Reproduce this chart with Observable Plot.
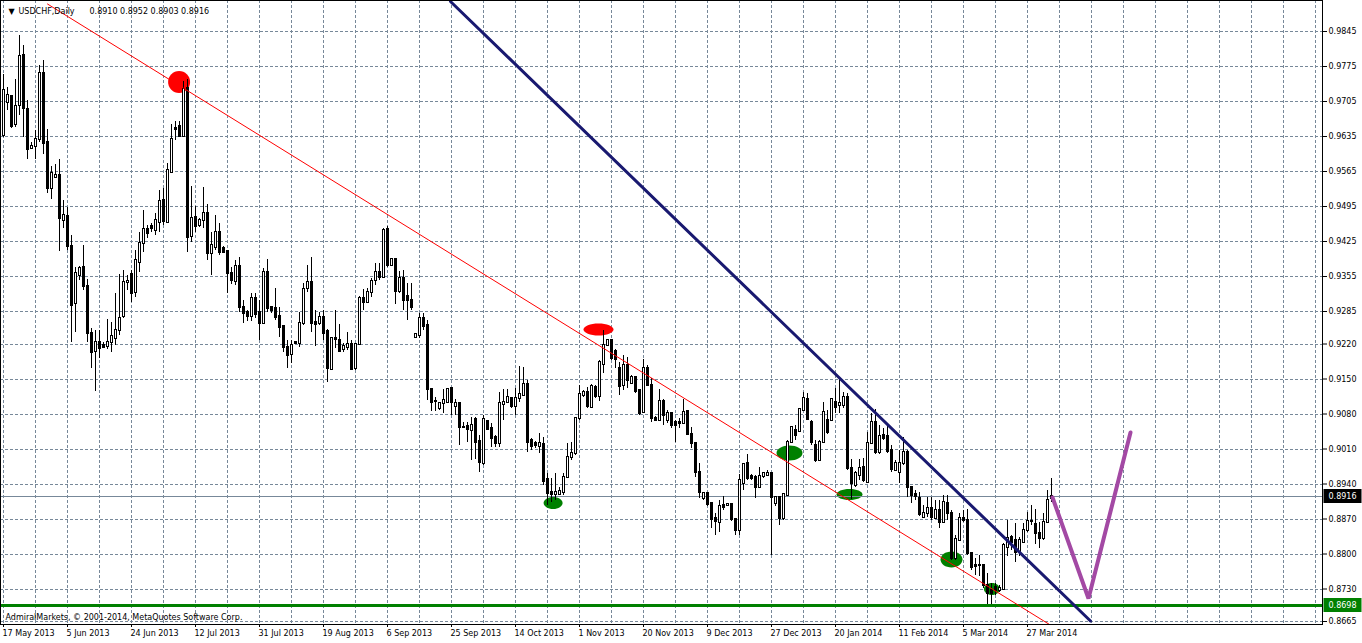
<!DOCTYPE html>
<html><head><meta charset="utf-8">
<script src="https://cdn.jsdelivr.net/npm/d3@7"></script>
<script src="https://cdn.jsdelivr.net/npm/@observablehq/plot@0.6"></script>
<style>
html,body{margin:0;padding:0;background:#fff;overflow:hidden}
#chart svg{display:block}
</style></head><body><div id="chart"></div>
<script>
// ---- data ----
const symbolTitle = "USDCHF,Daily";
const copyright = "AdmiralMarkets, © 2001-2014, MetaQuotes Software Corp.";
const dateLabels = ["17 May 2013","5 Jun 2013","24 Jun 2013","12 Jul 2013","31 Jul 2013","19 Aug 2013","6 Sep 2013","25 Sep 2013","14 Oct 2013","1 Nov 2013","20 Nov 2013","9 Dec 2013","27 Dec 2013","20 Jan 2014","11 Feb 2014","5 Mar 2014","27 Mar 2014"];
const dateLabelBars = [0,16,32,48,64,80,96,112,128,144,160,176,192,208,224,240,256];
const priceTicks = [0.9845,0.9775,0.9705,0.9635,0.9565,0.9495,0.9425,0.9355,0.9285,0.9220,0.9150,0.9080,0.9010,0.8940,0.8870,0.8800,0.8730,0.8665];

const opens = [
0.9637,0.9703,0.9715,0.9659,0.9697,0.9797,0.9689,0.9611,0.9615,0.9629,
0.9761,0.9623,0.9531,0.9553,0.9557,0.9467,0.9475,0.9415,0.9301,0.9357,
0.9373,0.9335,0.9241,0.9205,0.9223,0.9217,0.9215,0.9223,0.9231,0.9247,
0.9275,0.9343,0.9359,0.9323,0.9383,0.9421,0.9449,0.9455,0.9447,0.9463,
0.9507,0.9463,0.9563,0.9651,0.9655,0.9635,0.9731,0.9435,0.9473,0.9457,
0.9467,0.9481,0.9401,0.9413,0.9443,0.9411,0.9405,0.9361,0.9345,0.9375,
0.9293,0.9283,0.9275,0.9311,0.9283,0.9261,0.9363,0.9293,0.9291,0.9275,
0.9255,0.9213,0.9199,0.9223,0.9221,0.9261,0.9331,0.9343,0.9263,0.9261,
0.9273,0.9245,0.9169,0.9231,0.9227,0.9209,0.9213,0.9219,0.9171,0.9219,
0.9311,0.9303,0.9323,0.9347,0.9363,0.9353,0.9449,0.9377,0.9389,0.9325,
0.9351,0.9315,0.9307,0.9233,0.9237,0.9271,0.9257,0.9129,0.9105,0.9091,
0.9101,0.9103,0.9131,0.9095,0.9101,0.9053,0.9055,0.9047,0.9069,0.9025,
0.8981,0.9065,0.9051,0.9033,0.9021,0.9099,0.9103,0.9111,0.9095,0.9111,
0.9117,0.9139,0.9027,0.9021,0.9015,0.9019,0.8949,0.8923,0.8919,0.8919,
0.8923,0.8953,0.8993,0.9001,0.9071,0.9117,0.9123,0.9093,0.9133,0.9115,
0.9179,0.9217,0.9227,0.9205,0.9171,0.9137,0.9177,0.9141,0.9153,0.9127,
0.9083,0.9171,0.9137,0.9071,0.9067,0.9105,0.9067,0.9081,0.9063,0.9063,
0.9061,0.9085,0.9039,0.9021,0.8963,0.8911,0.8921,0.8901,0.8871,0.8863,
0.8897,0.8897,0.8899,0.8869,0.8847,0.8941,0.8981,0.8955,0.8953,0.8933,
0.8955,0.8957,0.8961,0.8901,0.8913,0.8871,0.8917,0.9023,0.9047,0.9045,
0.9087,0.9109,0.9063,0.9017,0.8987,0.9023,0.9067,0.9067,0.9103,0.9097,
0.9097,0.9113,0.8971,0.8937,0.8957,0.8973,0.8943,0.9021,0.9063,0.9003,
0.9037,0.9035,0.9007,0.8967,0.8963,0.8981,0.9003,0.8933,0.8919,0.8911,
0.8873,0.8881,0.8891,0.8871,0.8887,0.8863,0.8901,0.8881,0.8791,0.8827,
0.8871,0.8867,0.8801,0.8777,0.8777,0.8777,0.8737,0.8727,0.8733,0.8727,
0.8729,0.8813,0.8833,0.8827,0.8803,0.8823,0.8847,0.8865,0.8859,0.8841,
0.8831,0.8863,0.8910];
const highs = [
0.9759,0.9733,0.9717,0.9749,0.9837,0.9817,0.9707,0.9623,0.9647,0.9777,
0.9787,0.9649,0.9575,0.9579,0.9589,0.9507,0.9493,0.9437,0.9373,0.9375,
0.9417,0.9349,0.9251,0.9247,0.9247,0.9223,0.9269,0.9263,0.9321,0.9359,
0.9367,0.9357,0.9367,0.9407,0.9443,0.9487,0.9457,0.9461,0.9481,0.9527,
0.9531,0.9581,0.9659,0.9665,0.9665,0.9745,0.9749,0.9535,0.9495,0.9471,
0.9533,0.9499,0.9443,0.9477,0.9461,0.9415,0.9407,0.9373,0.9387,0.9393,
0.9307,0.9287,0.9321,0.9321,0.9307,0.9371,0.9389,0.9295,0.9331,0.9293,
0.9257,0.9227,0.9227,0.9225,0.9283,0.9341,0.9377,0.9393,0.9287,0.9283,
0.9287,0.9249,0.9233,0.9287,0.9259,0.9221,0.9243,0.9227,0.9221,0.9315,
0.9329,0.9331,0.9351,0.9381,0.9381,0.9451,0.9455,0.9391,0.9391,0.9365,
0.9367,0.9341,0.9341,0.9241,0.9281,0.9281,0.9267,0.9131,0.9113,0.9103,
0.9129,0.9131,0.9133,0.9109,0.9103,0.9063,0.9063,0.9073,0.9073,0.9037,
0.9077,0.9067,0.9061,0.9037,0.9123,0.9129,0.9129,0.9113,0.9131,0.9175,
0.9173,0.9147,0.9031,0.9025,0.9041,0.9033,0.8961,0.8951,0.8961,0.8933,
0.8961,0.9021,0.9023,0.9073,0.9137,0.9127,0.9133,0.9139,0.9137,0.9187,
0.9247,0.9229,0.9229,0.9209,0.9183,0.9197,0.9193,0.9157,0.9155,0.9129,
0.9189,0.9177,0.9151,0.9075,0.9129,0.9109,0.9087,0.9083,0.9067,0.9071,
0.9109,0.9087,0.9053,0.9021,0.8981,0.8923,0.8923,0.8903,0.8881,0.8907,
0.8915,0.8901,0.8901,0.8871,0.8959,0.8981,0.8999,0.8959,0.8957,0.8973,
0.8963,0.8967,0.8963,0.8915,0.8915,0.8921,0.9027,0.9055,0.9057,0.9091,
0.9123,0.9121,0.9067,0.9027,0.9027,0.9103,0.9087,0.9111,0.9131,0.9151,
0.9123,0.9121,0.8989,0.8965,0.8989,0.8991,0.9043,0.9081,0.9089,0.9057,
0.9051,0.9061,0.9017,0.8987,0.9007,0.9033,0.9007,0.8935,0.8927,0.8923,
0.8897,0.8913,0.8913,0.8907,0.8907,0.8917,0.8917,0.8887,0.8837,0.8881,
0.8887,0.8889,0.8803,0.8791,0.8797,0.8779,0.8761,0.8741,0.8741,0.8737,
0.8821,0.8867,0.8837,0.8861,0.8833,0.8861,0.8883,0.8897,0.8889,0.8863,
0.8881,0.8927,0.8952];
const lows = [
0.9633,0.9687,0.9651,0.9653,0.9677,0.9633,0.9589,0.9609,0.9589,0.9623,
0.9599,0.9521,0.9509,0.9551,0.9405,0.9451,0.9407,0.9223,0.9243,0.9347,
0.9327,0.9223,0.9171,0.9125,0.9191,0.9211,0.9209,0.9203,0.9217,0.9237,
0.9271,0.9327,0.9303,0.9313,0.9363,0.9403,0.9431,0.9443,0.9437,0.9443,
0.9457,0.9461,0.9561,0.9627,0.9633,0.9633,0.9403,0.9423,0.9443,0.9453,
0.9451,0.9387,0.9357,0.9407,0.9397,0.9401,0.9321,0.9339,0.9337,0.9283,
0.9261,0.9265,0.9265,0.9271,0.9227,0.9259,0.9283,0.9281,0.9267,0.9233,
0.9203,0.9171,0.9181,0.9219,0.9213,0.9257,0.9323,0.9243,0.9215,0.9257,
0.9227,0.9143,0.9167,0.9211,0.9203,0.9203,0.9207,0.9167,0.9167,0.9217,
0.9287,0.9301,0.9313,0.9337,0.9347,0.9351,0.9373,0.9375,0.9299,0.9321,
0.9287,0.9267,0.9287,0.9231,0.9231,0.9247,0.9107,0.9085,0.9085,0.9087,
0.9081,0.9101,0.9077,0.9077,0.9017,0.9051,0.9023,0.8987,0.8989,0.8963,
0.8977,0.9047,0.9013,0.9013,0.9013,0.9067,0.9101,0.9091,0.9077,0.9103,
0.9115,0.9003,0.9007,0.9011,0.9001,0.8937,0.8897,0.8903,0.8907,0.8917,
0.8917,0.8951,0.8987,0.8997,0.9067,0.9113,0.9091,0.9091,0.9111,0.9105,
0.9161,0.9215,0.9187,0.9171,0.9117,0.9127,0.9131,0.9139,0.9121,0.9077,
0.9081,0.9135,0.9063,0.9065,0.9065,0.9057,0.9061,0.9051,0.9023,0.9051,
0.9059,0.9037,0.9011,0.8953,0.8911,0.8907,0.8895,0.8851,0.8837,0.8843,
0.8887,0.8895,0.8865,0.8837,0.8837,0.8927,0.8947,0.8947,0.8911,0.8931,
0.8951,0.8955,0.8797,0.8895,0.8857,0.8867,0.8915,0.9021,0.9027,0.9043,
0.9085,0.9067,0.9017,0.8983,0.8985,0.9021,0.9039,0.9065,0.9081,0.9081,
0.9091,0.8967,0.8909,0.8933,0.8947,0.8943,0.8941,0.9019,0.8999,0.8999,
0.9027,0.9001,0.8963,0.8965,0.8941,0.8977,0.8913,0.8901,0.8907,0.8875,
0.8871,0.8873,0.8867,0.8869,0.8851,0.8861,0.8867,0.8787,0.8787,0.8825,
0.8863,0.8797,0.8767,0.8757,0.8755,0.8731,0.8699,0.8699,0.8717,0.8723,
0.8727,0.8795,0.8807,0.8783,0.8795,0.8821,0.8843,0.8857,0.8819,0.8811,
0.8827,0.8861,0.8903];
const closes = [
0.9727,0.9717,0.9655,0.9695,0.9795,0.9691,0.9609,0.9615,0.9629,0.9761,
0.9621,0.9531,0.9561,0.9557,0.9471,0.9477,0.9415,0.9297,0.9361,0.9371,
0.9335,0.9241,0.9203,0.9223,0.9211,0.9213,0.9223,0.9235,0.9247,0.9271,
0.9343,0.9345,0.9321,0.9387,0.9421,0.9449,0.9441,0.9451,0.9467,0.9505,
0.9465,0.9567,0.9629,0.9649,0.9635,0.9729,0.9433,0.9471,0.9455,0.9467,
0.9481,0.9401,0.9417,0.9443,0.9403,0.9403,0.9361,0.9347,0.9375,0.9293,
0.9281,0.9275,0.9311,0.9279,0.9261,0.9363,0.9291,0.9287,0.9273,0.9253,
0.9213,0.9197,0.9217,0.9221,0.9261,0.9329,0.9343,0.9261,0.9259,0.9273,
0.9241,0.9171,0.9231,0.9229,0.9205,0.9215,0.9219,0.9169,0.9219,0.9311,
0.9303,0.9323,0.9345,0.9363,0.9353,0.9447,0.9377,0.9389,0.9325,0.9351,
0.9307,0.9307,0.9293,0.9239,0.9271,0.9255,0.9129,0.9103,0.9105,0.9101,
0.9107,0.9129,0.9103,0.9101,0.9053,0.9053,0.9049,0.9057,0.9023,0.8983,
0.9069,0.9049,0.9031,0.9021,0.9101,0.9103,0.9113,0.9095,0.9111,0.9119,
0.9139,0.9023,0.9015,0.9017,0.9021,0.8945,0.8921,0.8919,0.8923,0.8925,
0.8953,0.8993,0.9001,0.9071,0.9119,0.9123,0.9095,0.9135,0.9115,0.9183,
0.9217,0.9227,0.9191,0.9189,0.9135,0.9177,0.9147,0.9153,0.9125,0.9081,
0.9171,0.9137,0.9071,0.9067,0.9105,0.9077,0.9081,0.9057,0.9057,0.9061,
0.9083,0.9039,0.9021,0.8963,0.8923,0.8921,0.8899,0.8869,0.8865,0.8895,
0.8893,0.8899,0.8869,0.8847,0.8947,0.8979,0.8951,0.8951,0.8933,0.8955,
0.8961,0.8961,0.8913,0.8913,0.8871,0.8919,0.9023,0.9053,0.9037,0.9089,
0.9111,0.9069,0.9023,0.8987,0.9023,0.9083,0.9043,0.9109,0.9093,0.9101,
0.9113,0.8971,0.8941,0.8961,0.8971,0.8947,0.9021,0.9063,0.9003,0.9035,
0.9031,0.9005,0.8969,0.8981,0.8981,0.9003,0.8933,0.8917,0.8915,0.8879,
0.8881,0.8891,0.8873,0.8887,0.8863,0.8903,0.8881,0.8791,0.8829,0.8871,
0.8867,0.8801,0.8773,0.8775,0.8777,0.8737,0.8721,0.8721,0.8727,0.8731,
0.8817,0.8831,0.8823,0.8803,0.8827,0.8847,0.8865,0.8865,0.8841,0.8831,
0.8863,0.8907,0.8916];

const bidPrice = 0.8916;
const supportLevel = 0.8698;
// drawn objects: [bar index, price]
const redTrend = [[11, 0.9900], [261.5, 0.8659]];
const blueTrend = [[111.75, 0.9905], [271.75, 0.8666]];
const purpleForecast = [[262.25, 0.8913], [271.25, 0.8711], [281.75, 0.9043]];
const redMarkers = [[43.9, 0.9744]];
const redOval = [[148.75, 0.9249]];
const greenOvals = [[137.4, 0.8902], [196.5, 0.9002], [211.5, 0.8919], [237, 0.8789], [247.1, 0.8730]];

// ---- build ----
const bars = opens.map((o, i) => ({i, o, h: highs[i], l: lows[i], c: closes[i]}));
const fmt = v => v.toFixed(4);
const last = bars[bars.length - 1];

function ellipseSym(rx, ry) {
  const k = 0.5522847498;
  return {draw(ctx) {
    ctx.moveTo(rx, 0);
    ctx.bezierCurveTo(rx, ry * k, rx * k, ry, 0, ry);
    ctx.bezierCurveTo(-rx * k, ry, -rx, ry * k, -rx, 0);
    ctx.bezierCurveTo(-rx, -ry * k, -rx * k, -ry, 0, -ry);
    ctx.bezierCurveTo(rx * k, -ry, rx, -ry * k, rx, 0);
    ctx.closePath();
  }};
}
const boxSym = {draw(ctx) { ctx.rect(-19, -7, 38, 14); }};
const greenRadii = [[9.5, 6], [13, 7.5], [13, 5.5], [11, 8], [8, 6]];
const GRID = "#778899";

const chart = Plot.plot({
  width: 1362,
  height: 624 + 19,
  marginLeft: 0,
  marginRight: 40,
  marginTop: 0,
  marginBottom: 19,
  style: {fontFamily: "'DejaVu Sans', sans-serif", fontSize: "8px", color: "black", background: "white"},
  x: {type: "linear", domain: [-0.75, 329.75], label: null},
  y: {type: "linear", domain: [0.8659, 0.9907], label: null},
  marks: [
    Plot.gridX(d3.range(0, 330, 8), {stroke: GRID, strokeOpacity: 1, strokeDasharray: "3,2", shapeRendering: "crispEdges"}),
    Plot.gridY(priceTicks, {stroke: GRID, strokeOpacity: 1, strokeDasharray: "3,2", shapeRendering: "crispEdges"}),
    // filled oval objects (background)
    Plot.dot(redMarkers, {x: d => d[0], y: d => d[1], r: 11, fill: "red"}),
    Plot.dot(redOval, {x: d => d[0], y: d => d[1], symbol: ellipseSym(15, 6), fill: "red"}),
    ...greenOvals.map((g, k) => Plot.dot([g], {x: d => d[0], y: d => d[1], symbol: ellipseSym(greenRadii[k][0], greenRadii[k][1]), fill: "#008000"})),
    Plot.ruleY([bidPrice], {stroke: GRID, shapeRendering: "crispEdges"}),
    // candles
    Plot.ruleX(bars, {x: "i", y1: "l", y2: "h", stroke: "black", shapeRendering: "crispEdges"}),
    Plot.rect(bars, {
      x1: d => d.i - 0.25, x2: d => d.i + 0.25,
      y1: d => Math.min(d.o, d.c), y2: d => Math.max(d.o, d.c),
      fill: d => d.c >= d.o ? "white" : "black", stroke: "black", strokeWidth: 1,
      insetTop: -0.25, insetBottom: -0.25, shapeRendering: "crispEdges"
    }),
    // line objects
    Plot.ruleY([supportLevel], {stroke: "#008000", strokeWidth: 3, shapeRendering: "crispEdges"}),
    Plot.line(redTrend, {x: d => d[0], y: d => d[1], stroke: "red", strokeWidth: 1, clip: true}),
    Plot.line(blueTrend, {x: d => d[0], y: d => d[1], stroke: "#191970", strokeWidth: 3, clip: true}),
    Plot.line(purpleForecast, {x: d => d[0], y: d => d[1], stroke: "#a349a4", strokeWidth: 4, strokeLinejoin: "miter"}),
    Plot.frame({stroke: "black", shapeRendering: "crispEdges"}),
    // axes
    Plot.axisY(priceTicks, {anchor: "right", tickSize: 4, tickPadding: 2, tickFormat: fmt, fill: "black", label: null}),
    Plot.axisX(dateLabelBars, {anchor: "bottom", tickSize: 3, tickFormat: () => "", label: null}),
    Plot.text(dateLabelBars, {x: d => d, frameAnchor: "bottom", dy: 9, dx: -1, text: (d, k) => dateLabels[k], textAnchor: "start", lineAnchor: "middle", fill: "black"}),
    // price labels
    Plot.dot([bidPrice], {y: d => d, frameAnchor: "right", dx: 20, symbol: boxSym, fill: "black"}),
    Plot.text([bidPrice], {y: d => d, frameAnchor: "right", dx: 6, text: fmt, textAnchor: "start", fill: "white"}),
    Plot.dot([supportLevel], {y: d => d, frameAnchor: "right", dx: 20, symbol: boxSym, fill: "#008000"}),
    Plot.text([supportLevel], {y: d => d, frameAnchor: "right", dx: 6, text: fmt, textAnchor: "start", fill: "white"}),
    // titles
    Plot.text(["▼"], {frameAnchor: "top-left", dx: 8, dy: 11, text: d => d, fontSize: 8, lineAnchor: "middle", fill: "black"}),
    Plot.text([symbolTitle], {frameAnchor: "top-left", dx: 18, dy: 11, text: d => d, textAnchor: "start", lineAnchor: "middle", fill: "black"}),
    Plot.text([last], {frameAnchor: "top-left", dx: 89, dy: 11, text: d => `${fmt(d.o)} ${fmt(d.h)} ${fmt(d.l)} ${fmt(d.c)}`, textAnchor: "start", lineAnchor: "middle", fill: "black"}),
    Plot.text([copyright], {frameAnchor: "bottom-left", dx: 5, dy: -7, text: d => d, textAnchor: "start", lineAnchor: "middle", fill: "black"})
  ]
});
document.getElementById("chart").appendChild(chart);
</script>
</body></html>
